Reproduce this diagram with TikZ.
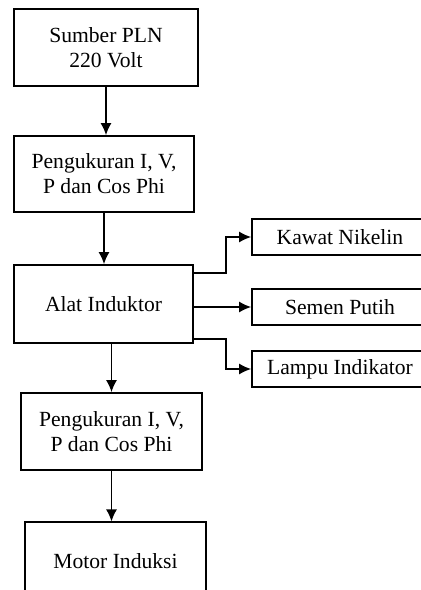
\documentclass[tikz,border=0pt]{standalone}
\usepackage{fontspec}
\setmainfont{Liberation Serif}
\usepackage{tikz}
\usetikzlibrary{arrows.meta}

\begin{document}
\begin{tikzpicture}[x=1pt, y=-1pt,
	blok/.style={draw, line width=1.8pt, align=center, inner sep=0pt,
		font=\fontsize{21.6}{25}\selectfont},
	panah/.style={line width=1.3pt, -{Latex[length=12pt, width=11pt]}}]
				%\draw[help lines] (0,0) grid (421,590);
				\useasboundingbox (0,0) rectangle (421,590);
				\begin{scope}
				\clip (0,0) rectangle (421,590);
				
				\node[blok, minimum width=184pt, minimum height=77pt] (sumber) at (106,47.5) {Sumber PLN\\220 Volt};
				\node[blok, minimum width=180pt, minimum height=76pt] (ukur1) at (104,174) {Pengukuran I, V,\\P dan Cos Phi};
				\node[blok, minimum width=179pt, minimum height=78pt] (induktor) at (103.5,304) {Alat Induktor};
				\node[blok, minimum width=181pt, minimum height=77pt] (ukur2) at (111.5,431.5) {Pengukuran I, V,\\P dan Cos Phi};
				\node[blok, line width=1.2pt, minimum width=181pt, minimum height=78pt] (motor) at (115.5,561) {Motor Induksi};
				
				\node[blok, minimum width=176pt, minimum height=36pt] (kawat) at (340,237) {Kawat Nikelin};
				\node[blok, minimum width=176pt, minimum height=36pt] (semen) at (340,307) {Semen Putih};
				\node[blok, minimum width=176pt, minimum height=36pt] (lampu) at (340,369) {Lampu Indikator};
				\end{scope}
				
				\draw[panah] (sumber.south) -- (sumber.south |- ukur1.north);
				\draw[panah] (ukur1.south) -- (ukur1.south |- induktor.north);
				\draw[panah] (induktor.south -| ukur2.north) -- (ukur2.north);
				\draw[panah] (ukur2.south) -- (ukur2.south |- motor.north);
				
				\draw[panah] ([yshift=31pt]induktor.east) -- ++(32,0) |- (kawat.west);
				\draw[panah] (induktor.east |- semen.west) -- (semen.west);
				\draw[panah] ([yshift=-35pt]induktor.east) -- ++(32,0) |- (lampu.west);
				\end{tikzpicture}
\end{document}
